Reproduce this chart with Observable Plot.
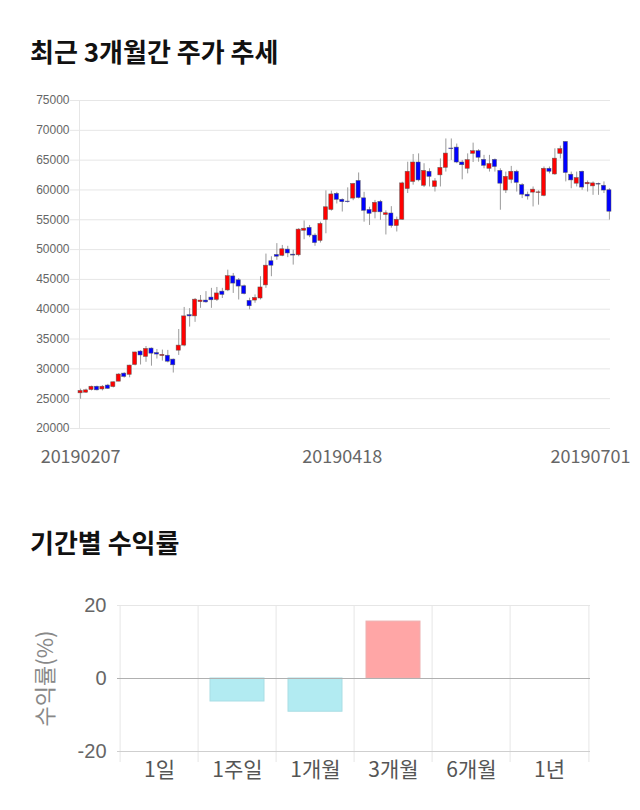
<!DOCTYPE html>
<html><head><meta charset="utf-8">
<script src="https://cdn.jsdelivr.net/npm/d3@7"></script>
<script src="https://cdn.jsdelivr.net/npm/@observablehq/plot@0.6"></script>
<style>
body{margin:0;background:#fff;width:640px;height:810px;position:relative;overflow:hidden;font-family:"Noto Sans CJK KR",sans-serif}
.title{position:absolute;left:30px;font-weight:700;font-size:26px;color:#111;line-height:1;white-space:nowrap}
#c1{position:absolute;left:0;top:85px}
#c2{position:absolute;left:0;top:585px}
</style></head><body>
<div class="title" style="top:38px">최근 3개월간 주가 추세</div>
<div id="c1"></div>
<div class="title" style="top:529px">기간별 수익률</div>
<div id="c2"></div>
<script>
// ---- Candlestick data (daily, 20190207 .. 20190701) ----
const opens = [25900,26000,26450,27000,26550,27200,26950,27850,29200,29000,30650,32900,32000,33400,32650,32150,32200,31550,33050,33900,
39000,38800,41200,41450,41950,41550,42950,43150,45500,44850,43850,41400,41450,41800,44000,48050,49100,48950,50000,49150,
49050,53150,53650,52350,51450,54950,56650,59350,58350,58050,58550,61500,58600,56650,56250,58000,55800,56050,53950,55000,
60150,61350,64600,60700,63050,60500,62450,63700,66950,67100,64600,63550,66050,66500,65050,63550,65050,63200,59900,61700,
63050,60800,59200,59550,59500,59000,63550,62600,66050,68050,62550,61050,63050,60950,60600,61000,60700,59950];
const closes = [26300,26400,27000,26400,27000,26650,27750,29050,28650,30550,32750,32250,33350,32550,32400,32350,31200,30600,33900,38800,
38800,41600,41450,41150,41500,42650,42400,45550,44300,43800,42550,40500,41900,43650,47300,47300,48800,50050,49350,49000,
53350,53500,52350,51100,54300,57100,59250,58350,57950,57950,61000,58650,56500,56000,57850,56250,56100,53950,55000,61100,
63050,64600,61600,63200,62200,61450,63700,66100,66850,64600,64150,65000,66500,65400,64050,64350,63850,61050,62200,63050,
61200,59200,58900,60050,59600,63550,63050,65250,66850,62850,61600,62000,60400,61200,61100,60900,59900,56350];
const highs = [26600,26600,27100,27100,27200,27400,27800,29200,29350,30600,32800,33050,33750,33500,33250,33150,33100,31650,36600,40300,
40100,41800,42300,42950,43500,43650,43500,46550,46000,45150,44050,41850,42400,45450,49250,48800,51000,50700,50550,49900,
53500,54800,54050,52650,54600,59850,59800,59600,58500,60350,61100,62850,59600,57100,58250,58250,56500,57200,55450,61300,
64650,65950,66050,64400,63550,61900,65200,68550,68550,67700,64950,66050,67850,66750,65800,65800,65200,63550,63000,63950,
63300,61050,59650,60500,59850,63850,63850,66900,67350,68050,63000,63000,63150,61500,61350,61150,61350,60200];
const lows = [24900,25900,26300,26300,26300,26550,26800,27850,28450,28500,30500,30650,31100,30450,31650,31300,31000,29300,32250,33700,
37000,37800,40150,41000,40150,41300,41800,42950,42650,41550,42400,39900,41000,41550,43500,45450,48200,48800,48650,47400,
48800,51650,52000,50550,51100,52650,56450,57650,56300,57800,58200,58500,54600,54050,55150,54900,52450,53600,52950,54900,
59400,60800,61350,60400,60500,59650,60500,63000,64950,64400,61700,62700,64600,64650,63550,63000,63000,56600,59400,61050,
59650,58550,58300,57150,57450,58850,62700,62450,65200,61350,60200,60500,59950,59650,59100,59100,59400,54950];
const dateTickIndex = [0, 48, 97];
const dateTickLabels = ["20190207", "20190418", "20190701"];
const priceTicks = [20000,25000,30000,35000,40000,45000,50000,55000,60000,65000,70000,75000];

// ---- Period returns ----
const periods = ["1일", "1주일", "1개월", "3개월", "6개월", "1년"];
const returns = [0, -6.3, -9.1, 15.6, 0, 0];
const returnTicks = [-20, 0, 20];

const candles = opens.map((o, i) => ({i, open: o, close: closes[i], high: highs[i], low: lows[i]}));
const upColor = "#ff0000", downColor = "#0000ff";

const chart1 = Plot.plot({
  width: 640, height: 395,
  marginLeft: 79, marginRight: 30, marginTop: 15, marginBottom: 52,
  x: {type: "linear", domain: [-0.2, 97.2], axis: null},
  y: {domain: [20000, 75000]},
  style: {background: "#fff", overflow: "visible"},
  marks: [
    Plot.gridY(priceTicks, {stroke: "#e6e6e6", strokeOpacity: 1}),
    Plot.frame({anchor: "left", stroke: "#e6e6e6"}),
    Plot.axisY(priceTicks, {tickSize: 9, tickPadding: 1, stroke: "#e6e6e6", fill: "#666", fontSize: 12, fontFamily: "Liberation Sans, Arial, sans-serif", tickFormat: d => String(d), label: null}),
    Plot.ruleX(candles, {x: "i", y1: "low", y2: "high", stroke: "#9a9a9a", strokeWidth: 1}),
    Plot.rect(candles, {x1: d => d.i - 0.38, x2: d => d.i + 0.38, y1: "open", y2: "close",
      fill: d => d.close >= d.open ? upColor : downColor, stroke: "#555", strokeWidth: 0.6, strokeOpacity: 0.8}),
    Plot.text(dateTickIndex.slice(0, 2), {x: d => d, frameAnchor: "bottom", dy: 34, text: (d, i) => dateTickLabels[i],
      fontSize: 18, fill: "#666", fontFamily: "Noto Sans CJK KR, sans-serif", textAnchor: "middle"}),
    Plot.text(dateTickIndex.slice(2), {x: d => d, frameAnchor: "bottom", dy: 34, dx: 21, text: (d, i) => dateTickLabels[2 + i],
      fontSize: 18, fill: "#666", fontFamily: "Noto Sans CJK KR, sans-serif", textAnchor: "end"})
  ]
});
document.getElementById("c1").append(chart1);

const rets = periods.map((p, i) => ({period: p, value: returns[i]}));
const W2 = 640, ML2 = 117, MR2 = 50;
const bw = (W2 - ML2 - MR2) / periods.length;
const chart2 = Plot.plot({
  width: W2, height: 200,
  marginLeft: ML2, marginRight: MR2, marginTop: 20, marginBottom: 34,
  x: {domain: periods, padding: 0},
  y: {domain: [-20, 20]},
  style: {background: "#fff", overflow: "visible"},
  marks: [
    Plot.ruleX(periods, {x: d => d, dx: -bw / 2, stroke: "#e6e6e6", insetBottom: -11}),
    Plot.ruleX(periods.slice(-1), {x: d => d, dx: bw / 2, stroke: "#e6e6e6", insetBottom: -11}),
    Plot.ruleY(returnTicks.filter(d => d > 0), {stroke: "#e6e6e6"}),
    Plot.ruleY(returnTicks.filter(d => d < 0), {stroke: "#cfcfcf"}),
    Plot.barY(rets, {x: "period", y: "value", insetLeft: 12, insetRight: 12,
      fill: d => d.value >= 0 ? "#ffa6a6" : "#b2ebf2",
      stroke: d => d.value >= 0 ? "#eeb0b0" : "#a9dde4", strokeWidth: 1}),
    Plot.ruleY(returnTicks.filter(d => d === 0), {stroke: "#b0b0b0"}),
    Plot.axisY(returnTicks, {tickSize: 0, tickPadding: 11, fontSize: 20, fill: "#666", fontFamily: "Liberation Sans, Arial, sans-serif", tickFormat: d => String(d), label: null}),
    Plot.text(["수익률(%)"], {frameAnchor: "left", dx: -72, rotate: -90, textAnchor: "middle", fontSize: 22, fill: "#888", fontFamily: "Noto Sans CJK KR, sans-serif"}),
    Plot.axisX({tickSize: 0, tickPadding: 11, fontSize: 21, fill: "#555", fontFamily: "Noto Sans CJK KR, sans-serif", label: null})
  ]
});
document.getElementById("c2").append(chart2);
</script>
</body></html>
